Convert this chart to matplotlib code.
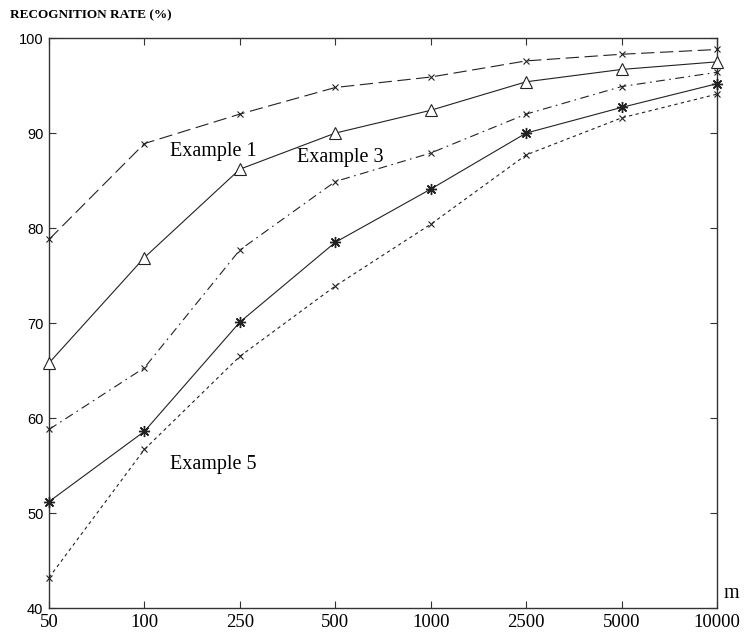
import matplotlib
matplotlib.use('Agg')
import matplotlib.pyplot as plt

m_labels = ['50', '100', '250', '500', '1000', '2500', '5000', '10000']
ex1 = [78.8, 88.9, 92.0, 94.8, 95.9, 97.6, 98.3, 98.8]
ex2 = [65.8, 76.9, 86.2, 90.0, 92.4, 95.4, 96.7, 97.5]
ex3 = [58.8, 65.3, 77.7, 84.9, 87.9, 92.0, 94.9, 96.4]
ex4 = [51.2, 58.6, 70.1, 78.5, 84.1, 90.0, 92.7, 95.2]
ex5 = [43.2, 56.7, 66.5, 73.9, 80.4, 87.7, 91.6, 94.1]

x = range(len(m_labels))
serif = 'Liberation Serif'

fig = plt.figure(figsize=(7.45, 6.35), dpi=100)
ax = fig.add_axes([0.0658, 0.0425, 0.8966, 0.8975])

lc = '#222222'
kw = dict(color=lc, lw=0.8, clip_on=False, zorder=3)
ax.plot(x, ex1, ls=(0, (12, 5)), marker='x', ms=4.5, mew=0.8, **kw)
ax.plot(x, ex2, ls='-', marker='^', ms=9, mfc='white', mew=0.8, **kw)
ax.plot(x, ex3, ls=(0, (8, 4, 1.5, 4)), marker='x', ms=4.5, mew=0.8, **kw)
ax.plot(x, ex4, ls='-', marker=(8, 2, 0), ms=8, mew=1.0, **kw)
ax.plot(x, ex5, ls=(0, (3, 3)), marker='x', ms=4.5, mew=0.8, **kw)

ax.set_xlim(0, 7)
ax.set_ylim(40, 100)
ax.set_xticks(list(x))
ax.set_xticklabels(m_labels, family=serif, fontsize=13.5)
ax.set_yticks([40, 50, 60, 70, 80, 90, 100])
ax.set_yticklabels(['40', '50', '60', '70', '80', '90', '100'],
                   family='Liberation Sans', fontsize=10.5)
ax.tick_params(direction='in', length=5, width=0.8, top=True, right=True,
               colors='#333333', labelcolor='black')
ax.tick_params(axis='x', pad=4)
ax.tick_params(axis='y', pad=4)
for s in ax.spines.values():
    s.set_linewidth(1.0)
    s.set_color('#333333')

ax.text(1.72, 88.1, 'Example 1', family=serif, fontsize=14.5, ha='center', va='center')
ax.text(3.05, 87.4, 'Example 3', family=serif, fontsize=14.5, ha='center', va='center')
ax.text(1.72, 55.1, 'Example 5', family=serif, fontsize=14.5, ha='center', va='center')
ax.text(1.022, 0.026, 'm', transform=ax.transAxes, family=serif, fontsize=14.5,
        ha='center', va='center')

fig.text(10 / 745, 1 - 15 / 635, 'RECOGNITION RATE (%)', family=serif,
         fontweight='bold', fontsize=9.5, ha='left', va='center')

fig.savefig('out.png', dpi=100)
